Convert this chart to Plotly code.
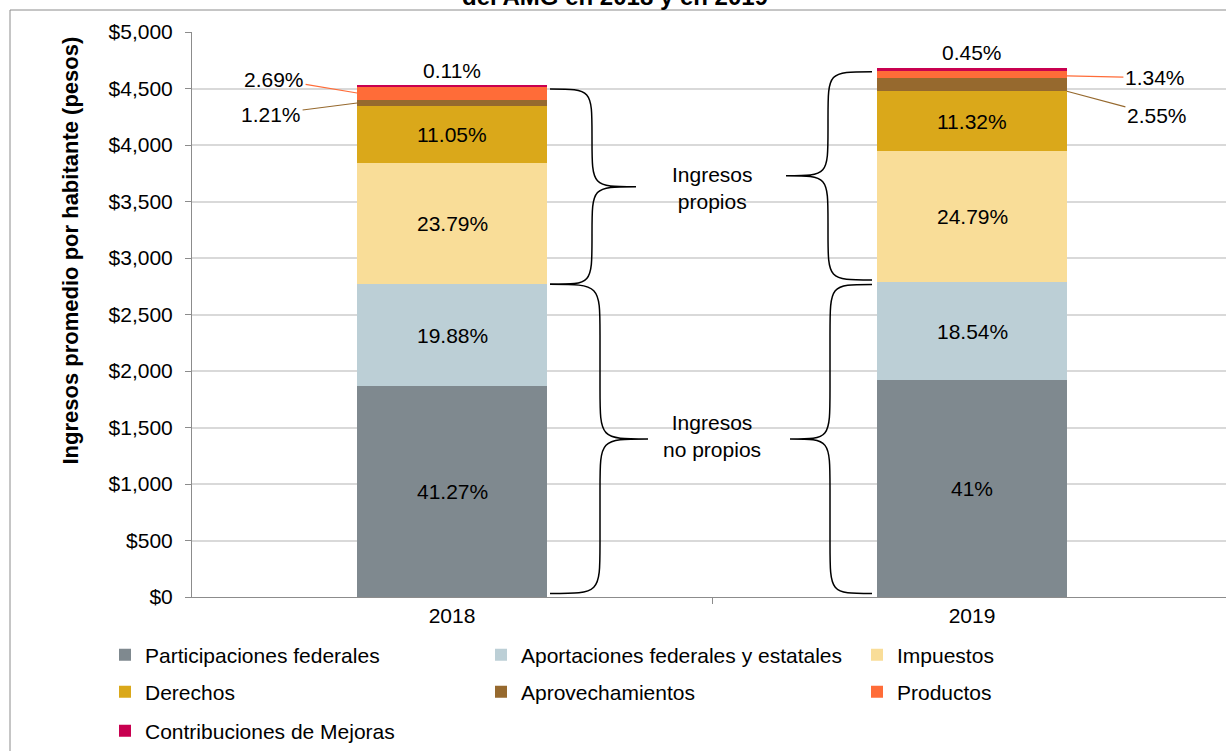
import plotly.graph_objects as go

# ---------------- data ----------------
years = ["2018", "2019"]
series_names = [
    "Participaciones federales",
    "Aportaciones federales y estatales",
    "Impuestos",
    "Derechos",
    "Aprovechamientos",
    "Productos",
    "Contribuciones de Mejoras",
]
values_2018 = [1867, 900, 1077, 500, 55, 122, 5]
values_2019 = [1918, 868, 1160, 530, 119, 63, 21]
pct_2018 = ["41.27%", "19.88%", "23.79%", "11.05%", "1.21%", "2.69%", "0.11%"]
pct_2019 = ["41%", "18.54%", "24.79%", "11.32%", "2.55%", "1.34%", "0.45%"]
colors = ["#7F898F", "#BCCFD6", "#F9DD98", "#DAA81A", "#96692E", "#FF6C38", "#C80050"]
ytick_vals = [0, 500, 1000, 1500, 2000, 2500, 3000, 3500, 4000, 4500, 5000]
ytick_text = ["$0", "$500", "$1,000", "$1,500", "$2,000", "$2,500", "$3,000",
              "$3,500", "$4,000", "$4,500", "$5,000"]

W, H = 1226, 751
ML, MR, MT, MB = 192, 0, 32, 154
PW = W - ML - MR
PH = H - MT - MB
FONT = "Liberation Sans, Arial, sans-serif"
FS = 21
BAR_W = 0.365


def px_x(px):
    return (px - ML) / PW


def px_y(py):
    return (H - MB - py) / PH


fig = go.Figure()
xs = [0, 1]
for i, name in enumerate(series_names):
    fig.add_trace(go.Bar(
        x=xs, y=[values_2018[i], values_2019[i]], name=name,
        marker=dict(color=colors[i], line=dict(width=0)),
        width=BAR_W, showlegend=True,
        legend="legend" if i < 3 else ("legend2" if i < 6 else "legend3"),
        hoverinfo="skip",
    ))

annotations = []
shapes = []
tfont = dict(size=FS, color="black", family=FONT)

# percentage labels
data_by_year = [(values_2018, pct_2018), (values_2019, pct_2019)]
for xi, (vals, pcts) in enumerate(data_by_year):
    cum = 0
    bounds = []
    for v in vals:
        bounds.append((cum, cum + v))
        cum += v
    total = cum
    for k in range(4):
        lo, hi = bounds[k]
        annotations.append(dict(x=xi, y=(lo + hi) / 2, xref="x", yref="y",
                                text=pcts[k], showarrow=False, font=tfont))
    annotations.append(dict(x=xi, y=total, xref="x", yref="y", text=pcts[6],
                            showarrow=False, yanchor="bottom", yshift=2,
                            font=tfont))
    lo4, hi4 = bounds[4]
    lo5, hi5 = bounds[5]
    if xi == 0:
        edge = xi - BAR_W / 2
        annotations.append(dict(x=edge, y=(lo5 + hi5) / 2, xref="x", yref="y",
                                text=pcts[5], showarrow=True, arrowhead=0,
                                arrowwidth=1.2, arrowcolor=colors[5],
                                ax=-83, ay=-14, standoff=0, font=tfont))
        annotations.append(dict(x=edge, y=(lo4 + hi4) / 2, xref="x", yref="y",
                                text=pcts[4], showarrow=True, arrowhead=0,
                                arrowwidth=1.2, arrowcolor=colors[4],
                                ax=-86, ay=11, standoff=0, font=tfont))
    else:
        edge = xi + BAR_W / 2
        annotations.append(dict(x=edge, y=(lo5 + hi5) / 2 - 15, xref="x", yref="y",
                                text=pcts[5], showarrow=True, arrowhead=0,
                                arrowwidth=1.2, arrowcolor=colors[5],
                                ax=88, ay=2, standoff=0, font=tfont))
        annotations.append(dict(x=edge, y=lo4, xref="x", yref="y",
                                text=pcts[4], showarrow=True, arrowhead=0,
                                arrowwidth=1.2, arrowcolor=colors[4],
                                ax=90, ay=24, standoff=0, font=tfont))


# braces
def brace(x0, xs_, xt, ytop, ybot, r):
    ymid = (ytop + ybot) / 2
    return (f"M {x0},{ytop} C {xs_},{ytop} {xs_},{ytop} {xs_},{ytop - r} "
            f"L {xs_},{ymid + r} C {xs_},{ymid} {xs_},{ymid} {xt},{ymid} "
            f"C {xs_},{ymid} {xs_},{ymid} {xs_},{ymid - r} "
            f"L {xs_},{ybot + r} C {xs_},{ybot} {xs_},{ybot} {x0},{ybot}")


t18 = sum(values_2018)
t19 = sum(values_2019)
nop18 = values_2018[0] + values_2018[1]
nop19 = values_2019[0] + values_2019[1]
line_style = dict(color="black", width=1.5)
shapes.append(dict(type="path", xref="paper", yref="y",
                   path=brace(px_x(550), px_x(592), px_x(636), t18 - 30, nop18, 420),
                   line=line_style))
shapes.append(dict(type="path", xref="paper", yref="y",
                   path=brace(px_x(550), px_x(600), px_x(648), nop18, 30, 450),
                   line=line_style))
shapes.append(dict(type="path", xref="paper", yref="y",
                   path=brace(px_x(872), px_x(828), px_x(786), t19 - 30, nop19 + 20, 420),
                   line=line_style))
shapes.append(dict(type="path", xref="paper", yref="y",
                   path=brace(px_x(872), px_x(830), px_x(790), nop19 - 20, 30, 450),
                   line=line_style))

annotations.append(dict(x=0.5, y=(t18 + nop18) / 2 - 30, xref="x", yref="y",
                        text="Ingresos<br>propios", showarrow=False, font=tfont))
annotations.append(dict(x=0.5, y=nop18 / 2 + 40, xref="x", yref="y",
                        text="Ingresos<br>no propios", showarrow=False, font=tfont))

# y-axis title
annotations.append(dict(x=px_x(55), y=px_y(251), xref="paper", yref="paper",
                        text="<b>Ingresos promedio por habitante (pesos)</b>",
                        textangle=-90, showarrow=False,
                        font=dict(size=22, color="black", family=FONT)))
# title (cut off at top, as in the reference)
annotations.append(dict(x=px_x(615), y=px_y(12), xref="paper", yref="paper",
                        yanchor="bottom", showarrow=False,
                        text="<b>Ingresos promedio por habitante de los municipios<br>del AMG en 2018 y en 2019</b>",
                        font=dict(size=24, color="black", family=FONT)))

# outer chart border
shapes.append(dict(type="rect", xref="paper", yref="paper",
                   x0=px_x(10), x1=px_x(1240), y0=px_y(770), y1=px_y(10),
                   line=dict(color="#8C8C8C", width=1), layer="below"))

legend_common = dict(orientation="h", xanchor="left", yanchor="middle",
                     font=dict(size=FS, color="black", family=FONT),
                     entrywidth=331, itemclick=False, itemdoubleclick=False,
                     bgcolor="rgba(0,0,0,0)", traceorder="normal")

fig.update_layout(
    barmode="stack",
    width=W, height=H,
    margin=dict(l=ML, r=MR, t=MT, b=MB, pad=0, autoexpand=False),
    paper_bgcolor="white", plot_bgcolor="white",
    font=dict(family=FONT, size=FS, color="black"),
    annotations=annotations,
    shapes=shapes,
    legend=dict(x=px_x(105), y=px_y(655), **legend_common),
    legend2=dict(x=px_x(105), y=px_y(692), **legend_common),
    legend3=dict(x=px_x(105), y=px_y(731), **legend_common),
    xaxis=dict(range=[-0.5, -0.5 + PW / 520], tickmode="array", tickvals=xs,
               ticktext=years, ticks="", showgrid=False, zeroline=False,
               showline=True, linecolor="#8C8C8C", linewidth=1,
               tickfont=tfont,
               minor=dict(tickvals=[0.5], ticks="outside", ticklen=6,
                          tickcolor="#8C8C8C", showgrid=False),
               fixedrange=True),
    yaxis=dict(range=[0, 5000], tickmode="array", tickvals=ytick_vals,
               ticktext=ytick_text, ticks="outside", ticklen=6,
               tickcolor="#8C8C8C", showline=True, linecolor="#8C8C8C",
               linewidth=1, gridcolor="#D9D9D9", gridwidth=1.5, zeroline=False,
               ticklabelstandoff=8, tickfont=tfont, fixedrange=True),
)

fig.write_html("out.html", config={"displayModeBar": False},
               post_script="document.body.style.margin='0';document.body.style.overflow='hidden';")
